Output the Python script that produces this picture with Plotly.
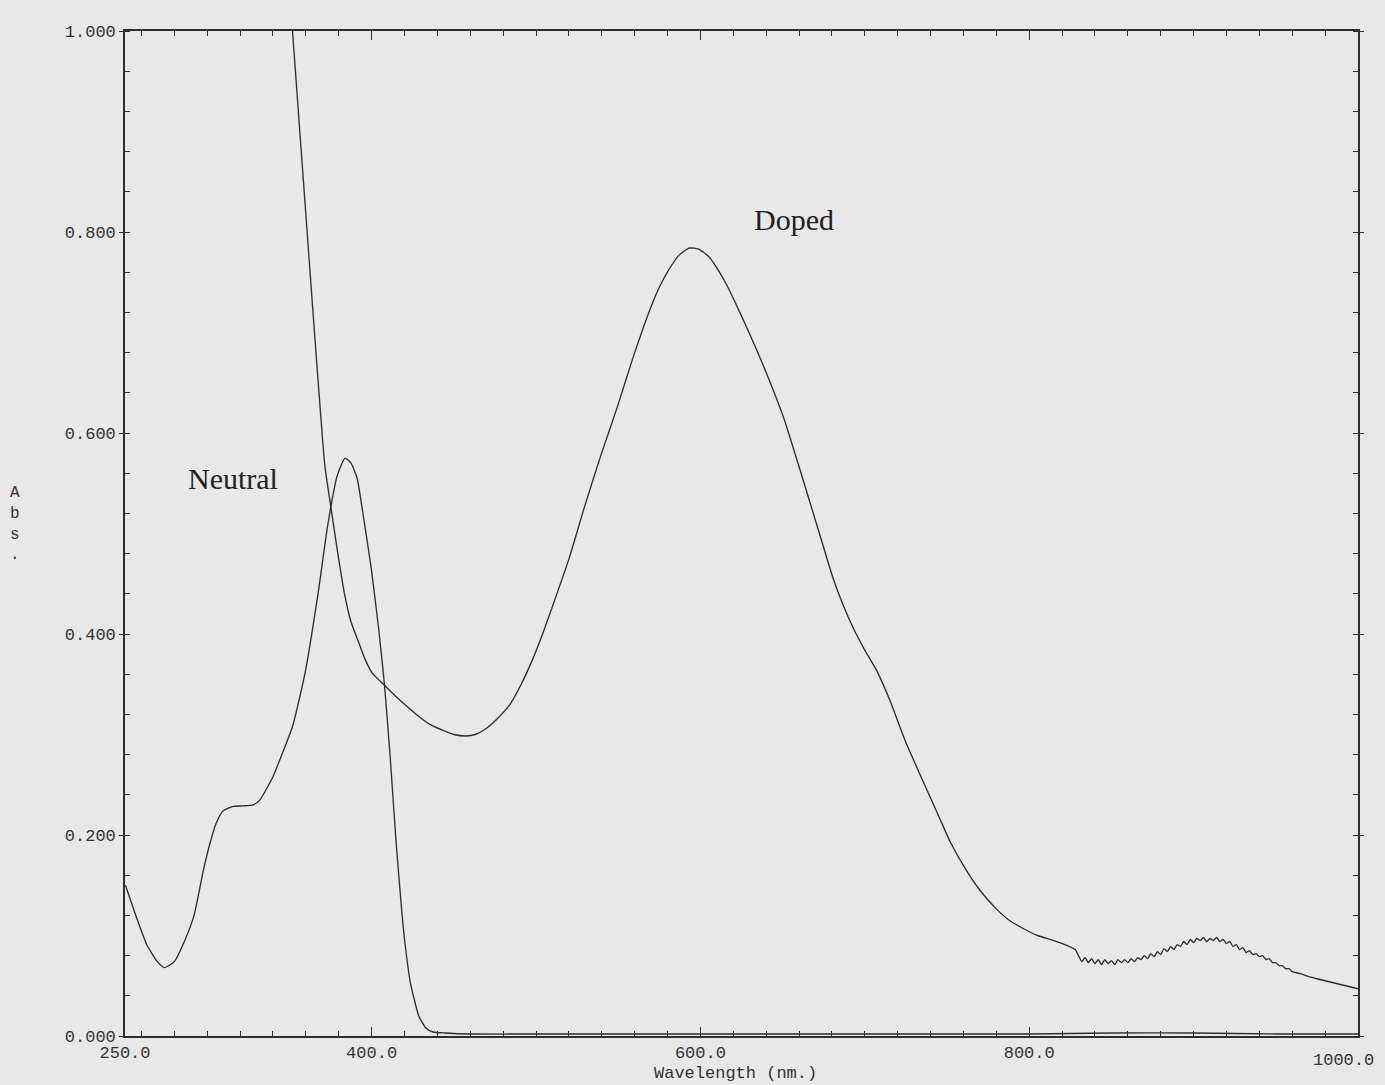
import plotly.graph_objects as go

# ---------------- data ----------------
neutral_wl = [250.3, 257.2, 263.5, 269.7, 274.0, 280.0, 286.1, 292.0, 297.7, 301.9,
              305.5, 309.6, 315.7, 322.0, 327.9, 332.1, 340.0, 344.2, 351.9, 359.5,
              367.5, 373.2, 379.0, 383.8, 387.5, 391.2, 395.2, 399.8, 404.3, 407.8,
              411.2, 414.8, 418.3, 420.1, 423.7, 428.7, 433.0, 437.4, 445.0, 460.0,
              500.0, 550.0, 600.0, 650.0, 700.0, 750.0, 800.0, 850.0, 900.0, 950.0, 1000.0]
neutral_abs = [0.150, 0.117, 0.090, 0.074, 0.068, 0.074, 0.094, 0.120, 0.165, 0.193,
               0.212, 0.224, 0.2285, 0.229, 0.230, 0.235, 0.258, 0.275, 0.308, 0.361,
               0.441, 0.507, 0.557, 0.575, 0.570, 0.555, 0.515, 0.465, 0.405, 0.350,
               0.280, 0.195, 0.125, 0.095, 0.052, 0.020, 0.008, 0.004, 0.003, 0.002,
               0.002, 0.002, 0.002, 0.002, 0.002, 0.002, 0.002, 0.003, 0.003, 0.002, 0.002]

doped_wl = [345.0, 351.9, 361.1, 371.6, 374.9, 379.0, 383.4, 387.5, 392.3, 396.0,
            400.4, 407.8, 414.0, 420.7, 428.0, 435.5, 443.5, 450.0, 457.5, 463.0,
            469.7, 476.0, 484.2, 491.0, 498.0, 504.0, 509.9, 519.9, 529.4, 539.5,
            549.5, 559.0, 569.1, 575.0, 581.0, 587.0, 593.1, 599.0, 605.4, 609.7,
            615.8, 624.0, 632.0, 640.8, 650.9, 661.6, 672.4, 680.6, 687.0, 693.1,
            700.0, 707.4, 715.0, 725.0, 735.0, 744.9, 752.0, 761.7, 770.0, 780.3,
            788.0, 796.9, 805.0, 815.0, 823.2, 828.0,
            830, 832, 834, 836, 838, 840, 842, 844, 846, 848, 850, 852, 854, 856, 858,
            860, 862, 864, 866, 868, 870, 872, 874, 876, 878, 880, 882, 884, 886, 888,
            890, 892, 894, 896, 898, 900, 902, 904, 906, 908, 910, 912, 914, 916, 918,
            920, 922, 924, 926, 928, 930, 932, 934, 936, 938, 940, 942, 944, 946, 948,
            950, 952, 954, 956, 958, 960, 965, 970, 975, 980, 985, 990, 995, 1000]
doped_abs = [1.160, 1.000, 0.793, 0.567, 0.530, 0.485, 0.441, 0.412, 0.391, 0.375,
             0.361, 0.349, 0.339, 0.329, 0.319, 0.310, 0.304, 0.300, 0.2985, 0.300,
             0.306, 0.315, 0.330, 0.350, 0.375, 0.400, 0.427, 0.474, 0.526, 0.578,
             0.626, 0.675, 0.722, 0.745, 0.763, 0.777, 0.784, 0.783, 0.775, 0.765,
             0.748, 0.720, 0.691, 0.657, 0.614, 0.558, 0.500, 0.456, 0.428, 0.4055,
             0.384, 0.363, 0.335, 0.292, 0.255, 0.219, 0.193, 0.165, 0.145, 0.126,
             0.115, 0.1065, 0.100, 0.095, 0.090, 0.086,
             0.080, 0.074, 0.078, 0.073, 0.077, 0.072, 0.076, 0.071, 0.076, 0.072,
             0.075, 0.071, 0.076, 0.073, 0.076, 0.073, 0.077, 0.074, 0.078, 0.076,
             0.080, 0.077, 0.082, 0.079, 0.084, 0.081, 0.087, 0.084, 0.089, 0.086,
             0.091, 0.089, 0.094, 0.091, 0.096, 0.093, 0.097, 0.095, 0.098, 0.094,
             0.097, 0.095, 0.098, 0.094, 0.096, 0.092, 0.094, 0.089, 0.091, 0.086,
             0.088, 0.083, 0.085, 0.081, 0.082, 0.079, 0.080, 0.076, 0.077, 0.073,
             0.073, 0.070, 0.070, 0.067, 0.067, 0.064, 0.062, 0.059, 0.057, 0.055,
             0.053, 0.051, 0.049, 0.047]

x_tickvals = [250, 400, 600, 800, 1000]
x_ticktext = ["250.0", "400.0", "600.0", "800.0", ""]
last_x_label = "1000.0"
y_tickvals = [0.0, 0.2, 0.4, 0.6, 0.8, 1.0]
y_ticktext = ["0.000", "0.200", "0.400", "0.600", "0.800", "1.000"]

labels = ["Neutral", "Doped"]
label_x = [315.7, 656.9]
label_y = [0.555, 0.812]

# ---------------- figure ----------------
PAPER = "#e8e8e8"
INK = "#2e2e2e"
MONO = "Liberation Mono, Courier New, monospace"
SERIF = "Liberation Serif, Times New Roman, serif"

fig = go.Figure()
fig.add_trace(go.Scatter(x=neutral_wl, y=neutral_abs, mode="lines", name="Neutral",
                         line=dict(color=INK, width=1.35, shape="spline", smoothing=0.5),
                         showlegend=False))
fig.add_trace(go.Scatter(x=doped_wl, y=doped_abs, mode="lines", name="Doped",
                         line=dict(color=INK, width=1.35, shape="spline", smoothing=0.5),
                         showlegend=False))

for t, ax_, ay_ in zip(labels, label_x, label_y):
    fig.add_annotation(x=ax_, y=ay_, text=t, showarrow=False,
                       font=dict(family=SERIF, size=30, color="#222"))

# last x tick label (kept inside the window, as in the reference)
fig.add_annotation(x=x_tickvals[-1], y=0, yref="paper", text=last_x_label,
                   showarrow=False, xanchor="center", yanchor="top", xshift=-15, yshift=-13,
                   font=dict(family=MONO, size=17, color="#333"))

# axis titles as annotations
fig.add_annotation(xref="paper", yref="paper", x=0.495, y=-0.037, yanchor="middle",
                   text="Wavelength (nm.)", showarrow=False,
                   font=dict(family=MONO, size=17, color="#333"))
fig.add_annotation(xref="paper", yref="paper", x=-0.089, y=0.509, xanchor="center",
                   yanchor="middle", text="A<br>b<br>s<br>.", showarrow=False,
                   font=dict(family=MONO, size=16, color="#333"))

fig.update_xaxes(range=[250, 1000], tickvals=x_tickvals, ticktext=x_ticktext,
                 ticks="inside", ticklen=9, tickcolor=INK, tickwidth=1.3,
                 showline=True, linecolor=INK, linewidth=1.6, mirror="ticks",
                 showgrid=False, zeroline=False,
                 tickfont=dict(family=MONO, size=17, color="#333"),
                 minor=dict(tick0=260, dtick=20, ticks="inside", ticklen=5,
                            tickcolor=INK, tickwidth=1.1, showgrid=False))
fig.update_yaxes(range=[0, 1], tickvals=y_tickvals, ticktext=y_ticktext,
                 ticks="outside", ticklen=4, tickcolor=INK, tickwidth=1.3,
                 showline=True, linecolor=INK, linewidth=1.6, mirror="ticks",
                 showgrid=False, zeroline=False,
                 tickfont=dict(family=MONO, size=17, color="#333"),
                 minor=dict(tick0=0, dtick=0.04, ticks="inside", ticklen=5,
                            tickcolor=INK, tickwidth=1.1, showgrid=False))

fig.update_layout(width=1385, height=1085,
                  margin=dict(l=125, r=27, t=31, b=49),
                  paper_bgcolor=PAPER, plot_bgcolor=PAPER)

fig.write_html("out.html", config={"displayModeBar": False},
               post_script="document.body.style.margin='0';"
                           "document.body.style.background='#e8e8e8';")
